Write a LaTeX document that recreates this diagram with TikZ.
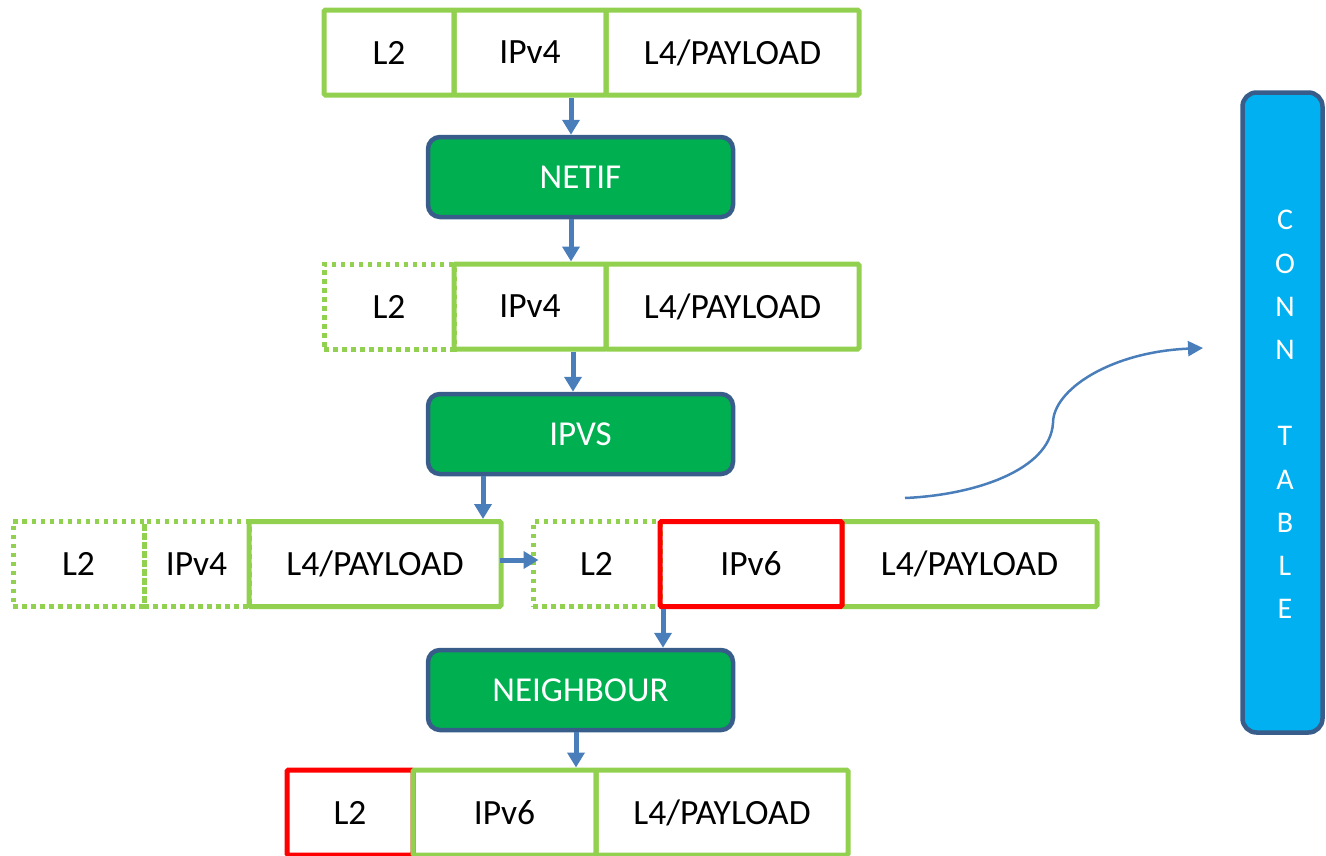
\documentclass[tikz,border=0pt]{standalone}
\usepackage{fontspec}
\setmainfont{Carlito}
\usetikzlibrary{arrows.meta,calc}
\definecolor{lgreen}{HTML}{92D050}
\definecolor{fgreen}{HTML}{00B050}
\definecolor{bord}{HTML}{385D8A}
\definecolor{arrblue}{HTML}{4A7EBB}
\definecolor{cyanf}{HTML}{00B0F0}
\definecolor{redc}{HTML}{FF0000}
\tikzset{
  cell/.style={draw=lgreen, line width=5pt, rectangle, inner sep=0pt, minimum height=85pt,
    rounded corners=1.5pt, text=black, font=\fontsize{35.5}{40}\selectfont},
  dcell/.style={cell, dash pattern=on 4.5pt off 4.5pt, rounded corners=0pt},
  rcell/.style={cell, draw=redc},
  proc/.style={draw=bord, fill=fgreen, line width=4.5pt, rounded corners=12pt, rectangle,
    minimum width=305pt, minimum height=80pt, inner sep=0pt, text=white,
    font=\fontsize{35}{40}\selectfont},
  arr/.style={draw=arrblue, line width=5pt, -{Triangle[length=15pt,width=17pt]}},
  carr/.style={draw=arrblue, line width=2.5pt, -{Triangle[length=15pt,width=15pt]}},
  tablebox/.style={draw=bord, fill=cyanf, line width=4.5pt, rounded corners=14pt, rectangle,
    minimum width=80pt, minimum height=640pt, inner sep=0pt},
}
\begin{document}
\begin{tikzpicture}[x=1pt,y=-1pt]
\useasboundingbox (0,0) rectangle (1326,855);

% row 1
\node[cell, minimum width=130pt] (r1a) at (389,52.5) {L2};
\node[cell, minimum width=152pt] (r1b) at (530,52.5) {IPv4};
\node[cell, minimum width=253pt] (r1c) at (732.5,52.5) {L4/PAYLOAD};

\node[proc] (netif) at (580.5,177) {NETIF};

% row 2
\node[dcell, minimum width=130pt] (r2a) at (389,306.5) {L2};
\node[cell, minimum width=152pt] (r2b) at (530,306.5) {IPv4};
\node[cell, minimum width=253pt] (r2c) at (732.5,306.5) {L4/PAYLOAD};

\node[proc] (ipvs) at (580.5,434) {IPVS};

% row 3 left
\node[dcell, minimum width=131pt] (r3a) at (78.5,564) {L2};
\node[dcell, minimum width=105pt] (r3b) at (196.5,564) {IPv4};
\node[cell, minimum width=252pt] (r3c) at (375,564) {L4/PAYLOAD};

% row 3 right
\node[dcell, minimum width=127pt] (r3d) at (596.5,564) {L2};
\node[cell, minimum width=255pt] (r3f) at (969.5,564) {L4/PAYLOAD};
\node[rcell, minimum width=182pt] (r3e) at (751,564) {IPv6};

\node[proc] (neigh) at (580.5,690) {NEIGHBOUR};

% row 4
\node[rcell, minimum width=126pt] (r4a) at (350,812.5) {L2};
\node[cell, minimum width=183pt] (r4b) at (504.5,812.5) {IPv6};
\node[cell, minimum width=252pt] (r4c) at (722,812.5) {L4/PAYLOAD};

% conn table
\node[tablebox] (conn) at (1282.5,412.5) {};
\node[text=white, align=center, font=\fontsize{30}{43.2}\selectfont] (conntext) at (1285,414.5)
  {C\\O\\N\\N\\~\\T\\A\\B\\L\\E};

% connectors
\draw[arr] ([xshift=-9.5pt]netif.north |- r1b.south) -- ([xshift=-9.5pt]netif.north);
\draw[arr] ([xshift=-9.5pt]netif.south) -- ([xshift=-9.5pt]netif.south |- r2b.north);
\draw[arr] ([xshift=-7.5pt]ipvs.north |- r2b.south) -- ([xshift=-7.5pt]ipvs.north);
\draw[arr] ([xshift=-97.5pt]ipvs.south) -- ([xshift=-97.5pt]ipvs.south |- r3c.north);
\draw[arr] ([xshift=-4pt,yshift=4pt]r3c.east) -- ([xshift=8pt,yshift=4pt]r3d.west);
\draw[arr] ([xshift=82.5pt]neigh.north |- r3e.south) -- ([xshift=82.5pt]neigh.north);
\draw[arr] ([xshift=-4.5pt]neigh.south) -- ([xshift=-4.5pt]neigh.south |- r4b.north);

\coordinate (cs) at (905,498);
\coordinate (cm) at (1053,423);
\coordinate (ce) at (1203,348);
\draw[carr] (cs) .. controls (975,495) and (1050,470) .. (cm)
  .. controls (1053,390) and (1110,352) .. (ce);
\end{tikzpicture}
\end{document}
